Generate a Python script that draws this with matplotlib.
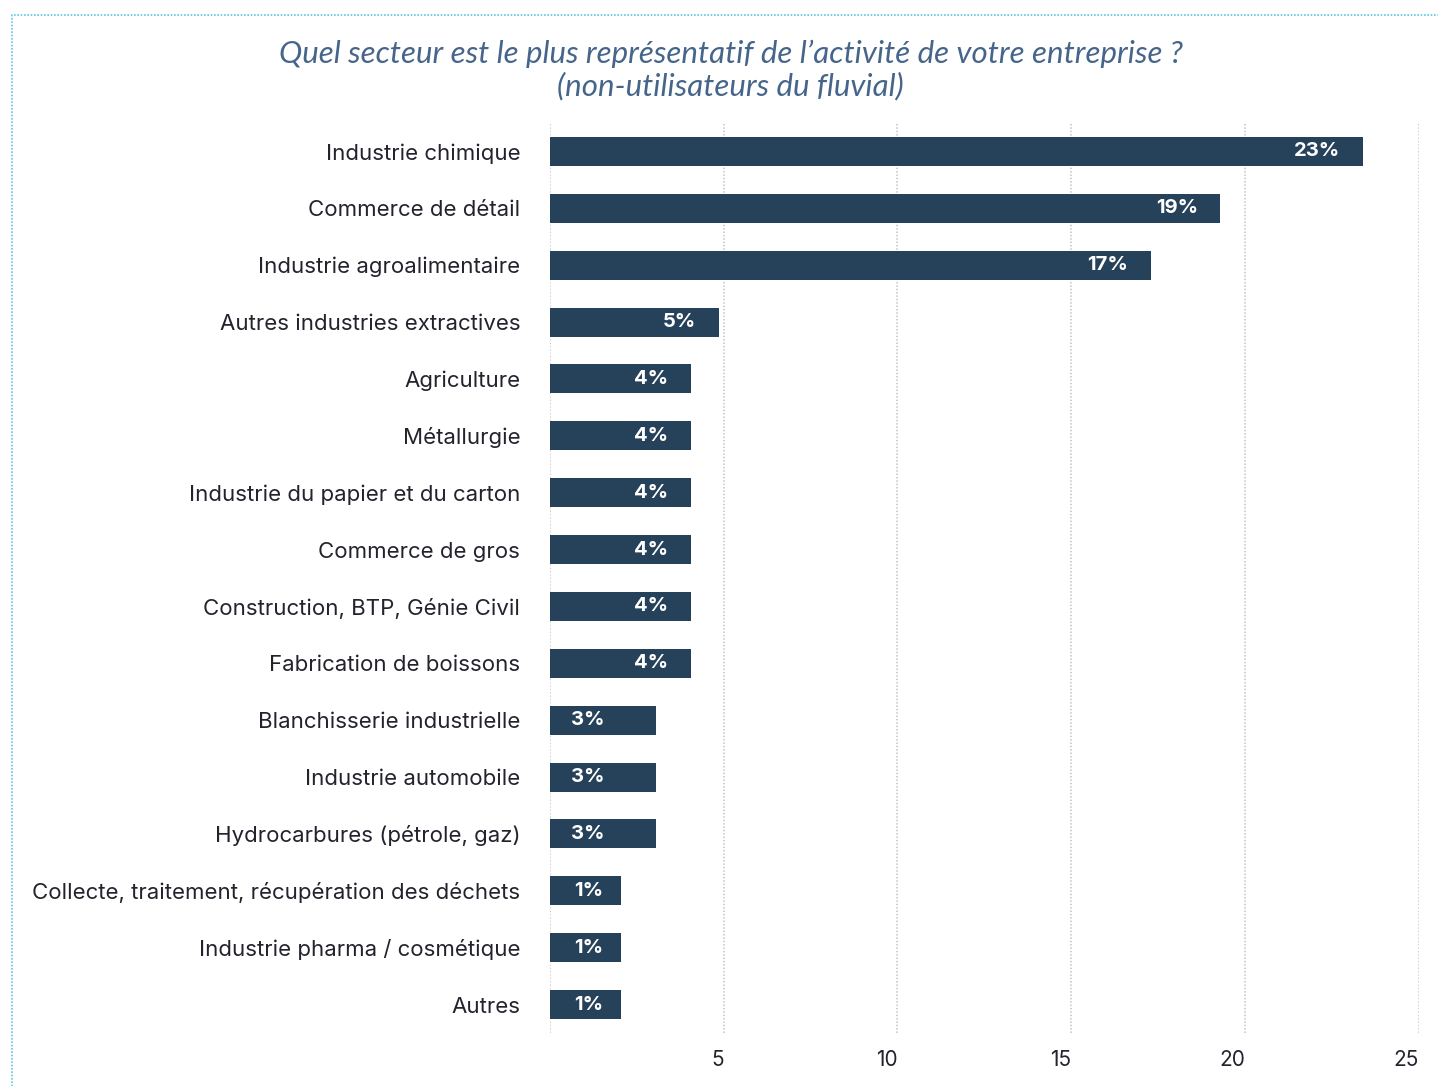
import matplotlib.pyplot as plt
from matplotlib.patches import Rectangle

categories = [
    "Industrie chimique",
    "Commerce de détail",
    "Industrie agroalimentaire",
    "Autres industries extractives",
    "Agriculture",
    "Métallurgie",
    "Industrie du papier et du carton",
    "Commerce de gros",
    "Construction, BTP, Génie Civil",
    "Fabrication de boissons",
    "Blanchisserie industrielle",
    "Industrie automobile",
    "Hydrocarbures (pétrole, gaz)",
    "Collecte, traitement, récupération des déchets",
    "Industrie pharma / cosmétique",
    "Autres",
]
values = [23.4, 19.3, 17.3, 4.86, 4.06, 4.06, 4.06, 4.06, 4.06, 4.06,
          3.05, 3.05, 3.05, 2.04, 2.04, 2.04]
value_labels = ["23%", "19%", "17%", "5%", "4%", "4%", "4%", "4%", "4%", "4%",
                "3%", "3%", "3%", "1%", "1%", "1%"]
ticks = [5, 10, 15, 20, 25]

bar_color = "#26425a"
text_color = "#23232e"
title_color = "#46658a"
font = ["Inter", "DejaVu Sans"]
plt.rcParams["font.family"] = font

W, H = 1438, 1086
fig = plt.figure(figsize=(W / 100, H / 100), dpi=100)
ax = fig.add_axes([550 / W, 1 - 1033 / H, (1418.5 - 550) / W, (1033 - 123) / H])

y = list(range(len(categories)))
ax.barh(y, values, height=0.51, color=bar_color, zorder=3)
ax.set_ylim(len(categories) - 0.5, -0.5)
ax.set_xlim(0, 25)

for i, (v, lab) in enumerate(zip(values, value_labels)):
    if v >= 4:
        ax.text(v - 0.65, i, lab, ha="right", va="center", color="white",
                fontsize=14.5, fontweight="bold", zorder=4)
    else:
        ax.text(1.1, i, lab, ha="center", va="center", color="white",
                fontsize=14.5, fontweight="bold", zorder=4)

ax.set_yticks(y)
ax.set_yticklabels(categories, fontsize=16, color=text_color)
ax.tick_params(axis="y", length=0, pad=21.5)
ax.set_xticks([])
for s in ax.spines.values():
    s.set_visible(False)

for t in [0] + ticks:
    ax.axvline(t, color="#c4c4c4", linestyle=(0, (1, 1.2)), linewidth=1.1, zorder=1)
for t in ticks:
    ax.text(t, -0.0297, str(t), transform=ax.get_xaxis_transform(), ha="right",
            va="center", fontsize=15, color=text_color)

title_font = ["Lato", "DejaVu Sans"]
fig.text(0.508, 1 - 54 / H, "Quel secteur est le plus représentatif de l’activité de votre entreprise ?",
         ha="center", va="center", fontsize=22.5, style="italic",
         color=title_color, family=title_font)
fig.text(0.508, 1 - 86 / H, "(non-utilisateurs du fluvial)",
         ha="center", va="center", fontsize=22.5, style="italic",
         color=title_color, family=title_font)

border = Rectangle((12 / W, -0.02), 1.05, 1 - 15 / H + 0.02, transform=fig.transFigure,
                   fill=False, edgecolor="#5cc6e2", linestyle=(0, (1, 1)), linewidth=1.2)
fig.patches.append(border)

fig.savefig("out.png", dpi=100)
